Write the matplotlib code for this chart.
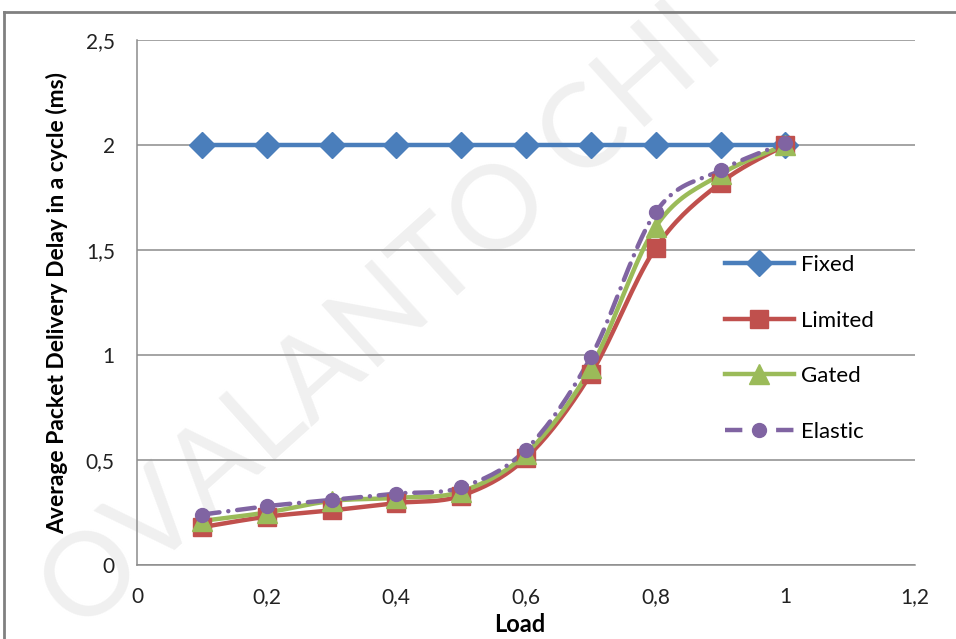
import numpy as np
import matplotlib.pyplot as plt
from matplotlib.lines import Line2D
from matplotlib.ticker import FuncFormatter

load = [0.1, 0.2, 0.3, 0.4, 0.5, 0.6, 0.7, 0.8, 0.9, 1.0]
fixed = [2.0, 2.0, 2.0, 2.0, 2.0, 2.0, 2.0, 2.0, 2.0, 2.0]
limited = [0.18, 0.23, 0.26, 0.295, 0.33, 0.51, 0.91, 1.51, 1.82, 2.0]
gated = [0.21, 0.25, 0.305, 0.32, 0.35, 0.53, 0.94, 1.61, 1.86, 2.0]
elastic = [0.24, 0.28, 0.31, 0.34, 0.37, 0.55, 0.99, 1.68, 1.88, 2.01]

x_ticks = [0, 0.2, 0.4, 0.6, 0.8, 1.0, 1.2]
y_ticks = [0, 0.5, 1.0, 1.5, 2.0, 2.5]

FONT = 'Lato'


def smooth(xs, ys, n=20):
    # Excel-like smoothed line: Bezier segments through the points
    p = np.column_stack([xs, ys]).astype(float)
    p = np.vstack([p[0], p, p[-1]])
    out = []
    for i in range(1, len(p) - 2):
        p0, p1, p2, p3 = p[i - 1], p[i], p[i + 1], p[i + 2]
        c1 = p1 + (p2 - p0) / 6
        c2 = p2 - (p3 - p1) / 6
        t = np.linspace(0, 1, n)[:, None]
        seg = ((1 - t) ** 3) * p1 + 3 * ((1 - t) ** 2) * t * c1 + 3 * (1 - t) * t ** 2 * c2 + t ** 3 * p2
        out.append(seg if i == 1 else seg[1:])
    out = np.vstack(out)
    return out[:, 0], out[:, 1]


fig = plt.figure(figsize=(9.56, 6.39), dpi=100)
W, H = 956, 639
ax = fig.add_axes([137 / W, (H - 565) / H, (915 - 137) / W, (565 - 40) / H])
ax.set_facecolor('none')
ax.set_zorder(1)

# watermark, behind the chart
fig.text(80 / W, (H - 635) / H, 'OVALANTO CHI', fontsize=84, family=FONT,
         color='#f0f0f0', rotation=42, rotation_mode='anchor',
         ha='left', va='baseline', zorder=0)

series = [
    ('Fixed', fixed, '#4A7EBB', 'D', 13, '-'),
    ('Limited', limited, '#C0504D', 's', 13, '-'),
    ('Gated', gated, '#9BBB59', '^', 14, '-'),
    ('Elastic', elastic, '#8064A2', 'o', 10, (0, (4, 2, 0.01, 2))),
]

handles = []
for name, ys, col, mk, ms, ls in series:
    sx, sy = smooth(load, ys)
    ax.plot(sx, sy, color=col, lw=3.2, linestyle=ls, dash_capstyle='round', zorder=3)
    ax.plot(load, ys, linestyle='none', marker=mk, markersize=ms, color=col,
            markeredgecolor=col, zorder=4)
    hls = ls if ls == '-' else (0, (3.9, 7.6))
    handles.append(Line2D([], [], color=col, lw=3.2, linestyle=hls, dash_capstyle='butt',
                          marker=mk, markersize=ms, markeredgecolor=col, label=name))

ax.set_xlim(0, 1.2)
ax.set_ylim(0, 2.5)
ax.set_xticks(x_ticks)
ax.set_yticks(y_ticks)
fmt = FuncFormatter(lambda v, pos: ('%g' % v).replace('.', ','))
ax.xaxis.set_major_formatter(fmt)
ax.yaxis.set_major_formatter(fmt)
ax.tick_params(length=0, labelsize=15, colors='#222222')
ax.tick_params(axis='y', pad=16)
ax.tick_params(axis='x', pad=16)
for lab in ax.get_xticklabels() + ax.get_yticklabels():
    lab.set_family(FONT)

ax.yaxis.grid(True, color='#8c8c8c', lw=1.1)
ax.set_axisbelow(True)
for s in ['top', 'right']:
    ax.spines[s].set_visible(False)
for s in ['left', 'bottom']:
    ax.spines[s].set_color('#8c8c8c')
    ax.spines[s].set_linewidth(1.1)

ax.set_ylabel('Average Packet Delivery Delay in a cycle (ms)', fontsize=16.5,
              fontweight='bold', family=FONT)
ax.yaxis.set_label_coords((68 - 137) / (915 - 137), 0.5)
fig.text(520 / W, (H - 625) / H, 'Load', fontsize=17, fontweight='bold',
         family=FONT, ha='center', va='center', zorder=2)

leg = ax.legend(handles=handles, loc='center left', bbox_to_anchor=((725 - 137) / 778, (565 - 348.5) / 525),
                frameon=False, prop={'family': FONT, 'size': 16},
                labelspacing=1.6, handlelength=3.1, handletextpad=0.3,
                borderpad=0, borderaxespad=0)

# outer border of the original chart area
fig.add_artist(Line2D([4 / W, 4 / W], [-0.1, (H - 12) / H], color='#808080', lw=2,
                      transform=fig.transFigure, zorder=3))
fig.add_artist(Line2D([4 / W, 1.1], [(H - 12) / H, (H - 12) / H], color='#808080', lw=2,
                      transform=fig.transFigure, zorder=3))

fig.savefig('out.png', dpi=100)
